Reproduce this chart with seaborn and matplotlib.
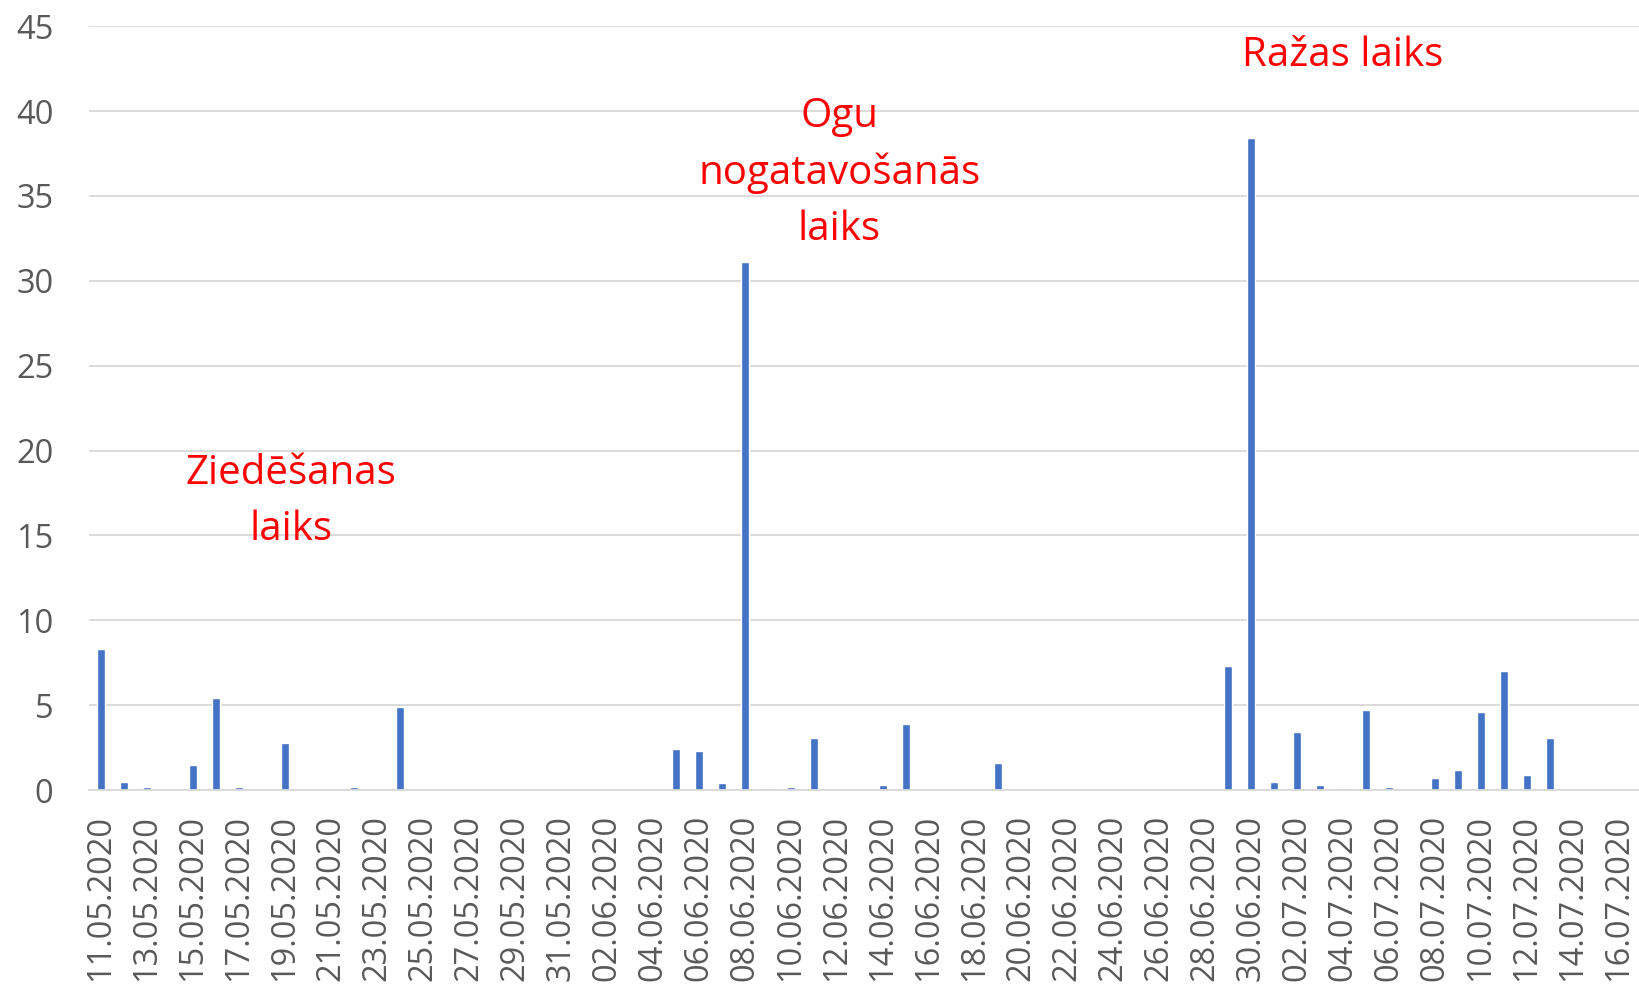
import pandas as pd
import matplotlib
matplotlib.use("Agg")
import matplotlib.pyplot as plt
import seaborn as sns

# daily values 11.05.2020 - 16.07.2020
dates = pd.date_range("2020-05-11", "2020-07-16", freq="D").strftime("%d.%m.%Y").tolist()
values = [
    8.3, 0.5, 0.2, 0, 1.5, 5.4, 0.2, 0, 2.8, 0, 0, 0.2, 0, 4.9,   # 11.05 - 24.05
    0, 0, 0, 0, 0, 0, 0, 0, 0, 0, 0,                              # 25.05 - 04.06
    2.4, 2.3, 0.4, 31.1, 0.1, 0.2, 3.1, 0, 0, 0.3, 3.9,           # 05.06 - 15.06
    0, 0, 0, 1.6,                                                 # 16.06 - 19.06
    0, 0, 0, 0, 0, 0, 0, 0, 0,                                    # 20.06 - 28.06
    7.3, 38.4, 0.5, 3.4, 0.3, 0.1, 4.7, 0.2, 0,                   # 29.06 - 07.07
    0.7, 1.2, 4.6, 7.0, 0.9, 3.1, 0, 0, 0,                        # 08.07 - 16.07
]
annotations = ["Ziedēšanas\nlaiks", "Ogu\nnogatavošanās\nlaiks", "Ražas laiks"]
annot_x = [8.26, 32.1, 53.96]
annot_y = [17.0, 36.35, 43.25]

df = pd.DataFrame({"date": dates, "value": values})

sns.set_theme(style="white")
plt.rcParams["font.family"] = ["Open Sans", "DejaVu Sans"]

fig = plt.figure(figsize=(16.4, 9.84), dpi=100)
ax = fig.add_axes([89.5 / 1640, 0.197, 1 - 89.5 / 1640, 0.7764])

sns.barplot(data=df, x="date", y="value", color="#4472C4", width=0.32,
            saturation=1, ax=ax)

ax.set_xlim(-0.5, 66.91)
ax.set_ylim(0, 45)
ax.set_yticks(range(0, 46, 5))
ax.yaxis.grid(True, color="#d9d9d9", linewidth=1.3)
ax.set_axisbelow(True)
ax.set_xticks(range(0, len(dates), 2))
ax.set_xticklabels(dates[::2], rotation=90)
ax.tick_params(axis="x", length=0, pad=18, labelsize=23.5, labelcolor="#595959")
ax.tick_params(axis="y", length=0, pad=26, labelsize=23.5, labelcolor="#595959")
for s in ["top", "right", "left"]:
    ax.spines[s].set_visible(False)
ax.spines["bottom"].set_color("#d9d9d9")
ax.spines["bottom"].set_linewidth(1.3)
ax.set_xlabel("")
ax.set_ylabel("")

for txt, x, y in zip(annotations, annot_x, annot_y):
    ax.text(x, y, txt, color="red", fontsize=29, ha="center", va="center",
            multialignment="center", linespacing=1.5)

fig.savefig("out.png", dpi=100)
